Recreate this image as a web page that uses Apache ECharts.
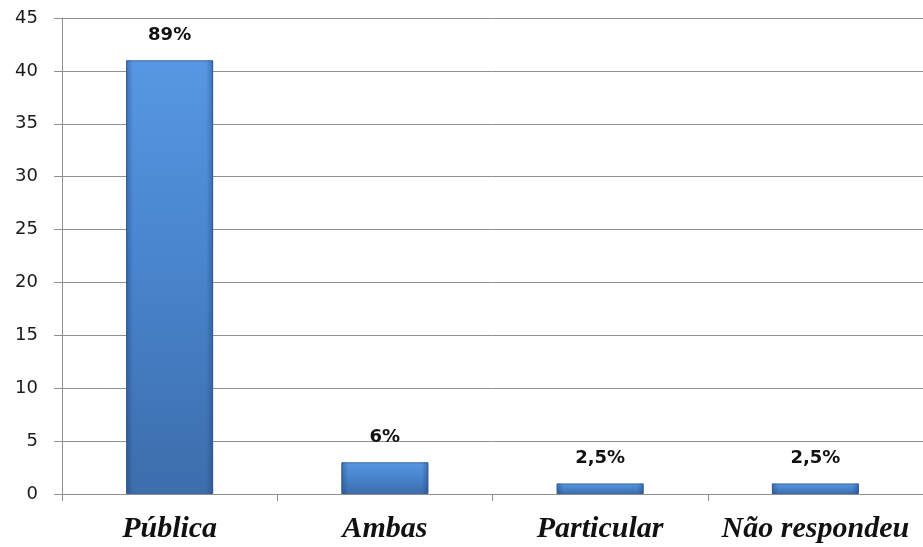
<!DOCTYPE html>
<html>
<head>
<meta charset="utf-8">
<script src="https://cdn.jsdelivr.net/npm/echarts@6/dist/echarts.min.js"></script>
<style>
  html, body { margin: 0; padding: 0; background: #fff; }
  #chart { width: 923px; height: 547px; }
</style>
</head>
<body>
<div id="chart"></div>
<script>
// Tipo de escola frequentada (respostas)
const categories = ['Pública', 'Ambas', 'Particular', 'Não respondeu'];
const counts = [41, 3, 1, 1];
const percentLabels = ['89%', '6%', '2,5%', '2,5%'];
const yTicks = { min: 0, max: 45, interval: 5 };

const chart = echarts.init(document.getElementById('chart'));

const bodyFill = new echarts.graphic.LinearGradient(0, 0, 0, 1, [
  { offset: 0, color: '#5797e3' },
  { offset: 0.5, color: '#4883cc' },
  { offset: 1, color: '#3d6dab' }
]);
const edgeShade = new echarts.graphic.LinearGradient(0, 0, 1, 0, [
  { offset: 0, color: 'rgba(20,45,90,0.35)' },
  { offset: 0.08, color: 'rgba(20,45,90,0.0)' },
  { offset: 0.92, color: 'rgba(20,45,90,0.0)' },
  { offset: 1, color: 'rgba(20,45,90,0.35)' }
]);

chart.setOption({
  animation: false,
  grid: { left: 62, right: 0, top: 18, bottom: 53 },
  xAxis: {
    type: 'category',
    data: categories,
    axisLine: { lineStyle: { color: '#909090', width: 1 } },
    axisTick: { show: true, interval: 0, length: 7, lineStyle: { color: '#909090' } },
    axisLabel: {
      interval: 0,
      margin: 20,
      color: '#111',
      fontFamily: 'Liberation Serif',
      fontStyle: 'italic',
      fontWeight: 'bold',
      fontSize: 30
    }
  },
  yAxis: {
    type: 'value',
    min: yTicks.min,
    max: yTicks.max,
    interval: yTicks.interval,
    axisLine: { show: true, lineStyle: { color: '#909090', width: 1 } },
    axisTick: { show: true, length: 8, lineStyle: { color: '#909090' } },
    splitLine: { lineStyle: { color: '#909090', width: 1 } },
    axisLabel: {
      margin: 24,
      color: '#1a1a1a',
      fontFamily: 'DejaVu Sans',
      fontSize: 18
    }
  },
  series: [
    {
      type: 'bar',
      data: counts,
      barWidth: 87,
      itemStyle: { color: bodyFill, borderColor: '#3a6aa8', borderWidth: 1 },
      label: {
        show: true,
        position: 'top',
        distance: 16,
        color: '#111',
        fontFamily: 'DejaVu Sans',
        fontWeight: 'bold',
        fontSize: 18,
        formatter: p => percentLabels[p.dataIndex]
      },
      z: 2
    },
    {
      type: 'bar',
      data: counts,
      barWidth: 87,
      barGap: '-100%',
      itemStyle: { color: edgeShade },
      silent: true,
      z: 3
    }
  ]
});
</script>
</body>
</html>
